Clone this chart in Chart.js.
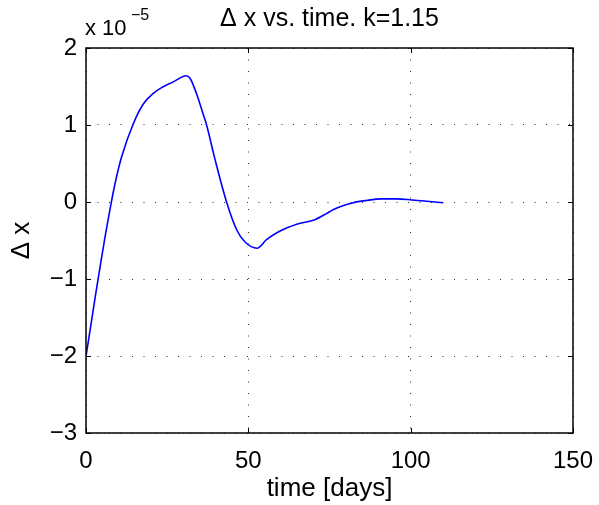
<!DOCTYPE html>
<html>
<head>
<meta charset="utf-8">
<script src="https://cdn.jsdelivr.net/npm/chart.js@4"></script>
<style>
  body { margin: 0; background: #fff; }
  #wrap { width: 599px; height: 505px; }
</style>
</head>
<body>
<div id="wrap"><canvas id="dxChart" width="599" height="505"></canvas></div>
<script>
// values (y in units of 1e-5)
const days = [0, 1.5, 3, 4.5, 6, 7.5, 9, 11, 14.6, 17.6, 20.7, 23.5, 26.9, 30.8, 32, 34.1, 36.1, 37.2, 39.7, 43.3, 46.4, 49, 52.7, 55.6, 59.2, 64.9, 70.5, 74.1, 76.1, 82.3, 86.4, 91, 95.6, 99.8, 104.9, 110];
const dx = [-2, -1.6, -1.19, -0.8, -0.42, -0.07, 0.25, 0.59, 1.02, 1.27, 1.41, 1.49, 1.56, 1.64, 1.61, 1.40, 1.14, 0.99, 0.56, 0.0, -0.36, -0.52, -0.60, -0.49, -0.39, -0.29, -0.23, -0.15, -0.10, -0.01, 0.02, 0.04, 0.04, 0.03, 0.01, -0.01];
const xTicks = [0, 50, 100, 150];
const yTicks = [-3, -2, -1, 0, 1, 2];
const titleText = '\u0394 x vs. time. k=1.15';

const FONT = 'Liberation Sans, Arial, Helvetica, sans-serif';
Chart.defaults.font.family = FONT;
Chart.defaults.color = '#000';

// box, inward tick marks, title and the "x 10^-5" multiplier
const matlabBox = {
  id: 'matlabBox',
  afterDraw(chart) {
    const ctx = chart.ctx;
    const a = chart.chartArea;
    const xs = chart.scales.x, ys = chart.scales.y;
    ctx.save();
    ctx.strokeStyle = '#000';
    ctx.lineWidth = 1;
    ctx.beginPath();
    xTicks.forEach(v => {
      const px = Math.round(xs.getPixelForValue(v)) + 0.5;
      ctx.moveTo(px, a.bottom); ctx.lineTo(px, a.bottom - 5);
      ctx.moveTo(px, a.top); ctx.lineTo(px, a.top + 5);
    });
    yTicks.forEach(v => {
      const py = Math.round(ys.getPixelForValue(v)) + 0.5;
      ctx.moveTo(a.left, py); ctx.lineTo(a.left + 5, py);
      ctx.moveTo(a.right, py); ctx.lineTo(a.right - 5, py);
    });
    ctx.stroke();
    ctx.lineWidth = 1.5;
    ctx.strokeRect(a.left, a.top, a.right - a.left, a.bottom - a.top);

    ctx.fillStyle = '#000';
    ctx.textBaseline = 'alphabetic';
    ctx.textAlign = 'center';
    ctx.font = '25px ' + FONT;
    ctx.fillText(titleText, (a.left + a.right) / 2, 26);

    ctx.textAlign = 'left';
    ctx.font = '22px ' + FONT;
    ctx.fillText('x 10', a.left - 1, 35);
    ctx.font = '16px ' + FONT;
    ctx.fillText('\u22125', a.left + 45, 20);
    ctx.restore();
  }
};

new Chart(document.getElementById('dxChart'), {
  type: 'line',
  data: {
    datasets: [{
      data: days.map((d, i) => ({ x: d, y: dx[i] })),
      borderColor: '#0000ff',
      borderWidth: 1.6,
      pointRadius: 0,
      fill: false,
      cubicInterpolationMode: 'monotone'
    }]
  },
  options: {
    responsive: false,
    animation: false,
    layout: { padding: { top: 48, right: 26, left: 0, bottom: 0 } },
    plugins: {
      legend: { display: false },
      tooltip: { enabled: false },
      title: { display: false }
    },
    scales: {
      x: {
        type: 'linear',
        min: 0,
        max: 150,
        afterBuildTicks: s => { s.ticks = xTicks.map(v => ({ value: v })); },
        afterFit: s => { s.height = 72; s.paddingLeft = 0; s.paddingRight = 20; },
        ticks: { font: { size: 24 }, padding: 14, maxRotation: 0 },
        grid: { color: '#333', lineWidth: 1, drawTicks: false },
        border: { display: false, dash: [1, 10.5] },
        title: {
          display: true,
          text: 'time [days]',
          font: { size: 26 },
          padding: { top: 0, bottom: 1 }
        }
      },
      y: {
        min: -3,
        max: 2,
        afterBuildTicks: s => { s.ticks = yTicks.map(v => ({ value: v })); },
        afterFit: s => { s.width = 86; s.paddingTop = 0; s.paddingBottom = 0; },
        ticks: {
          font: { size: 24 },
          padding: 9,
          callback: v => String(v).replace('-', '\u2212')
        },
        grid: { color: '#333', lineWidth: 1, drawTicks: false },
        border: { display: false, dash: [1, 10.5] },
        title: {
          display: true,
          text: '\u0394 x',
          font: { size: 26 },
          padding: { top: 6, bottom: 0 }
        }
      }
    }
  },
  plugins: [matlabBox]
});
</script>
</body>
</html>
